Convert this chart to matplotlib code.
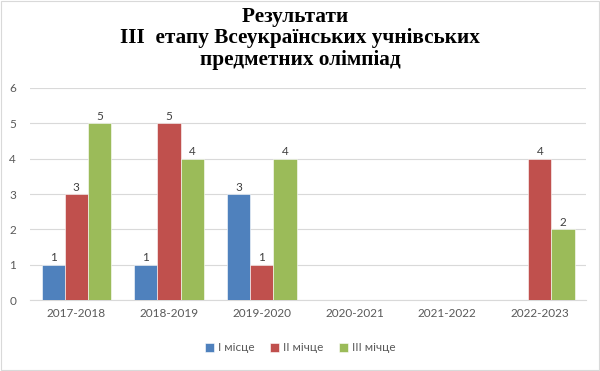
import matplotlib.pyplot as plt
import numpy as np
from matplotlib.patches import Rectangle

years = ['2017-2018', '2018-2019', '2019-2020', '2020-2021', '2021-2022', '2022-2023']
first = [1, 1, 3, 0, 0, 0]
second = [3, 5, 1, 0, 0, 4]
third = [5, 4, 4, 0, 0, 2]
series_names = ['І місце', 'ІІ мічце', 'ІІІ мічце']
colors = ['#4F81BD', '#C0504D', '#9BBB59']

plt.rcParams['font.family'] = ['Lato', 'DejaVu Sans']

fig = plt.figure(figsize=(6, 3.71), dpi=100)
ax = fig.add_axes([0.05, 0.191, 0.927, 0.572])

x = np.arange(len(years))
w = 0.25
for i, (vals, name, c) in enumerate(zip([first, second, third], series_names, colors)):
    pos = x + (i - 1) * w
    ax.bar(pos, vals, width=w, color=c, label=name, zorder=3, edgecolor='white', linewidth=0.4)
    for p, v in zip(pos, vals):
        if v > 0:
            ax.text(p, v + 0.04, str(v), ha='center', va='bottom', fontsize=8.5, color='#404040')

ax.set_xlim(-0.5, len(years) - 0.5)
ax.set_ylim(0, 6)
ax.set_yticks(range(0, 7))
ax.set_xticks(x)
ax.set_xticklabels(years)
ax.tick_params(axis='both', length=0, labelsize=8.5, colors='#595959')
ax.tick_params(axis='y', pad=10)
ax.tick_params(axis='x', pad=6)
ax.grid(axis='y', color='#D9D9D9', linewidth=0.8, zorder=0)
for s in ['top', 'right', 'left']:
    ax.spines[s].set_visible(False)
ax.spines['bottom'].set_color('#D9D9D9')

fig.text(0.5, 0.982, 'Результати  \nІІІ  етапу Всеукраїнських учнівських\nпредметних олімпіад',
         ha='center', va='top', fontsize=15.3, fontweight='bold', family='Liberation Serif',
         linespacing=1.12, multialignment='center')

fig.legend(loc='center', bbox_to_anchor=(0.5, 0.062), ncol=3, frameon=False, fontsize=8.5,
           handlelength=0.8, handleheight=0.8, handletextpad=0.3, columnspacing=1.3,
           labelcolor='#595959')

fig.patches.append(Rectangle((0.002, 0.003), 0.996, 0.994, transform=fig.transFigure,
                             fill=False, edgecolor='#D9D9D9', linewidth=0.8))

fig.savefig('out.png', dpi=100, facecolor='white')
